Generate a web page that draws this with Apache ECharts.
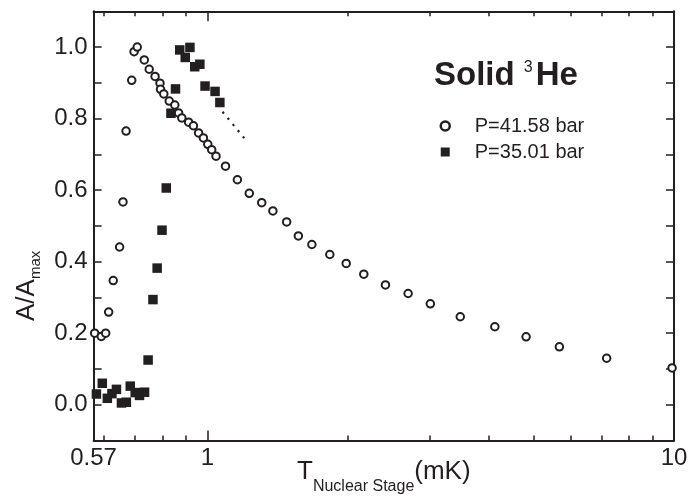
<!DOCTYPE html>
<html>
<head>
<meta charset="utf-8">
<script src="https://cdn.jsdelivr.net/npm/echarts@6/dist/echarts.min.js"></script>
<style>
html, body { margin: 0; padding: 0; background: #fff; }
#chart { width: 688px; height: 497px; }
</style>
</head>
<body>
<div id="chart"></div>
<script>
// P = 41.58 bar: nuclear stage temperature (mK) and normalized amplitude
const tempHigh = [0.573, 0.592, 0.605, 0.614, 0.628, 0.648, 0.659, 0.669, 0.688, 0.696, 0.707,
  0.732, 0.750, 0.772, 0.791, 0.793, 0.806, 0.828, 0.851, 0.867, 0.881, 0.911, 0.933, 0.957, 0.980,
  1.0015, 1.021, 1.043, 1.093, 1.159, 1.229, 1.307, 1.381, 1.478, 1.566, 1.674, 1.829, 1.983,
  2.163, 2.407, 2.692, 3.004, 3.482, 4.130, 4.819, 5.679, 7.172, 9.906];
const ampHigh = [0.200, 0.191, 0.200, 0.259, 0.347, 0.441, 0.567, 0.765, 0.907, 0.987, 1.000,
  0.964, 0.938, 0.918, 0.899, 0.882, 0.869, 0.849, 0.838, 0.816, 0.802, 0.790, 0.780, 0.760, 0.746,
  0.728, 0.713, 0.695, 0.667, 0.629, 0.591, 0.565, 0.542, 0.511, 0.472, 0.448, 0.420, 0.395,
  0.365, 0.335, 0.311, 0.282, 0.246, 0.218, 0.190, 0.162, 0.130, 0.103];

// P = 35.01 bar
const tempLow = [0.578, 0.595, 0.610, 0.624, 0.638, 0.654, 0.670, 0.683, 0.700, 0.715, 0.733,
  0.746, 0.764, 0.780, 0.799, 0.816, 0.835, 0.854, 0.872, 0.896, 0.917, 0.939, 0.963, 0.988,
  1.038, 1.063];
const ampLow = [0.030, 0.060, 0.018, 0.031, 0.043, 0.005, 0.007, 0.052, 0.034, 0.026, 0.035,
  0.125, 0.294, 0.382, 0.488, 0.606, 0.815, 0.883, 0.992, 0.971, 0.999, 0.945, 0.952, 0.891,
  0.876, 0.845];

// dotted guide continuing the 35.01 bar branch
const guideT = [1.077, 1.221];
const guideA = [0.819, 0.733];

// axis ticks and labels
const xLabelValues = [0.57, 1, 10];
const xMajorTicks = [1, 10];
const xMinorTicks = [0.6, 0.7, 0.8, 0.9, 2, 3, 4, 5, 6, 7, 8, 9];
const yLabelValues = [0.0, 0.2, 0.4, 0.6, 0.8, 1.0];

const INK = '#231f20';
const FONT = "'Liberation Sans', Arial, sans-serif";

const zip = (xs, ys) => xs.map((x, i) => [x, ys[i]]);

function logAxis(position, ticks, tickLen, showLine, labels) {
  const ax = {
    type: 'log', logBase: 10, min: 0.57, max: 10, position: position,
    axisLine: { show: showLine, onZero: false, lineStyle: { color: INK, width: 2 } },
    axisTick: { show: true, inside: true, length: tickLen, customValues: ticks,
      lineStyle: { color: INK, width: 1.5 } },
    axisLabel: { show: false },
    splitLine: { show: false },
    minorTick: { show: false }
  };
  if (labels) {
    ax.axisLabel = {
      show: true, customValues: labels, margin: 6,
      fontFamily: FONT, fontSize: 24, color: INK,
      formatter: v => (Math.abs(v - 0.57) < 1e-6 ? '0.57' : String(Math.round(v)))
    };
    ax.name = '{t|T}{sub|Nuclear Stage}{t|(mK)}';
    ax.nameLocation = 'middle';
    ax.nameGap = 18;
    ax.nameMoveOverlap = false;
    ax.nameTextStyle = {
      fontFamily: FONT, fontSize: 26, color: INK,
      rich: {
        t: { fontFamily: FONT, fontSize: 26, color: INK, lineHeight: 28, verticalAlign: 'top' },
        sub: { fontFamily: FONT, fontSize: 16, color: INK, lineHeight: 16, padding: [20, 0, 0, 0], verticalAlign: 'top' }
      }
    };
  }
  return ax;
}

function valAxis(position, withLabels) {
  const ax = {
    type: 'value', min: -0.1, max: 1.1, interval: 0.1, position: position,
    axisLine: { show: true, onZero: false, lineStyle: { color: INK, width: 2 } },
    axisTick: { show: true, inside: true, length: 8, lineStyle: { color: INK, width: 1.5 } },
    axisLabel: { show: false },
    splitLine: { show: false }
  };
  if (withLabels) {
    ax.axisLabel = {
      show: true, customValues: yLabelValues, margin: 6,
      fontFamily: FONT, fontSize: 24, color: INK,
      formatter: v => v.toFixed(1)
    };
    ax.name = 'A/A{sub|max}';
    ax.nameLocation = 'middle';
    ax.nameRotate = 90;
    ax.nameGap = 52;
    ax.nameMoveOverlap = false;
    ax.nameTextStyle = {
      fontFamily: FONT, fontSize: 26, color: INK, lineHeight: 30,
      padding: [0, 120, 0, 0],
      rich: { sub: { fontFamily: FONT, fontSize: 15, color: INK, padding: [18, 0, 0, 0] } }
    };
  }
  return ax;
}

const chart = echarts.init(document.getElementById('chart'), null, { renderer: 'canvas' });

chart.setOption({
  animation: false,
  backgroundColor: '#fff',
  textStyle: { fontFamily: FONT },
  grid: { left: 93.6, right: 14, top: 11.3, bottom: 56.5, containLabel: false, outerBoundsMode: 'none' },
  title: {
    text: 'Solid {sup|3}He',
    left: 434, top: 56, padding: 0,
    textStyle: {
      fontFamily: FONT, fontSize: 33, fontWeight: 'bold', color: INK, lineHeight: 40,
      rich: { sup: { fontFamily: FONT, fontSize: 16, fontWeight: 'normal', color: INK, padding: [0, 3, 17, 0] } }
    }
  },
  legend: {
    orient: 'vertical', left: 439.5, top: 116, padding: 0,
    itemWidth: 9, itemHeight: 9, itemGap: 6,
    textStyle: { fontFamily: FONT, fontSize: 20, color: INK, padding: [0, 0, 0, 20] },
    data: [
      { name: 'P=41.58 bar', icon: 'circle', itemStyle: { color: '#fff', borderColor: INK, borderWidth: 2.5 } },
      { name: 'P=35.01 bar', icon: 'rect', itemStyle: { color: INK } }
    ]
  },
  xAxis: [
    logAxis('bottom', xMajorTicks, 10, true, xLabelValues),
    logAxis('bottom', xMinorTicks, 5, false, null),
    logAxis('top', xMajorTicks, 10, true, null),
    logAxis('top', xMinorTicks, 5, false, null)
  ],
  yAxis: [
    valAxis('left', true),
    valAxis('right', false)
  ],
  series: [
    {
      name: 'P=41.58 bar', type: 'scatter', xAxisIndex: 0, yAxisIndex: 0,
      symbol: 'circle', symbolSize: 7.5, clip: false,
      itemStyle: { color: '#fff', borderColor: INK, borderWidth: 2, opacity: 1 },
      data: zip(tempHigh, ampHigh), z: 3
    },
    {
      name: 'P=35.01 bar', type: 'scatter', xAxisIndex: 0, yAxisIndex: 0,
      symbol: 'rect', symbolSize: 9.5, clip: false,
      itemStyle: { color: INK, opacity: 1 },
      data: zip(tempLow, ampLow), z: 4
    },
    {
      name: 'guide', type: 'line', xAxisIndex: 0, yAxisIndex: 0,
      symbol: 'none', silent: true,
      lineStyle: { color: INK, width: 2.2, type: [2.2, 5.8], cap: 'butt' },
      data: zip(guideT, guideA), z: 2
    }
  ]
});
</script>
</body>
</html>
